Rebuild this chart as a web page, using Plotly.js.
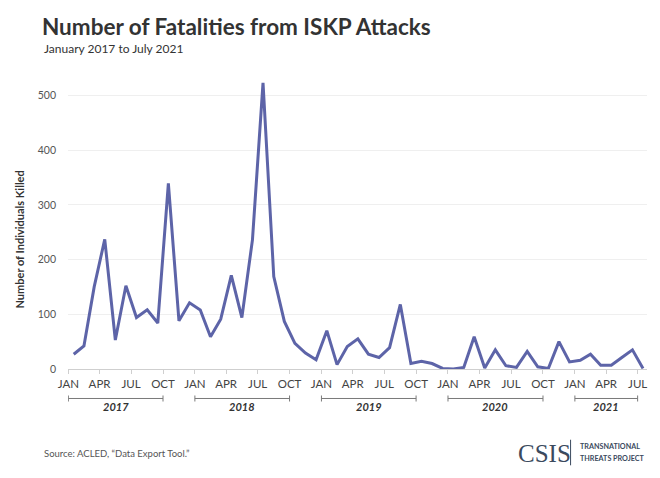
<!DOCTYPE html>
<html>
<head>
<meta charset="utf-8">
<script src="https://cdn.plot.ly/plotly-3.0.1.min.js"></script>
<style>
  html, body { margin: 0; padding: 0; background: #fff; }
  #chart { width: 660px; height: 478px; }
</style>
</head>
<body>
<div id="chart"></div>
<script>
// ---- Data ----
const startYear = 2017;
const monthCount = 55; // Jan 2017 .. Jul 2021
const fatalities = [
  27, 42, 150, 237, 53, 152, 94, 108, 84, 339, 88, 121,      // 2017
  108, 59, 91, 171, 94, 236, 523, 169, 87, 47, 29, 17,       // 2018
  70, 8, 41, 55, 27, 21, 39, 118, 10, 14, 10, 1,             // 2019
  0, 3, 59, 2, 35, 6, 3, 32, 4, 1, 50, 13,                   // 2020
  16, 27, 7, 7, 21, 35, 1                                    // 2021
];
const quarterLabels = ['JAN', 'APR', 'JUL', 'OCT'];
const years = [2017, 2018, 2019, 2020, 2021];
const yTicks = [0, 100, 200, 300, 400, 500];

// month keys
const months = [];
for (let i = 0; i < monthCount; i++) {
  const y = startYear + Math.floor(i / 12);
  const m = (i % 12) + 1;
  months.push(y + '-' + String(m).padStart(2, '0') + '-01');
}

// quarter ticks
const tickVals = [], tickText = [];
for (let i = 0; i < monthCount; i += 3) {
  tickVals.push(months[i]);
  tickText.push(quarterLabels[(i % 12) / 3]);
}

const lineColor = '#5d64a8';
const axisGray = '#cfcfcf';
const bracketGray = '#7a7a7a';

const shapes = [];
const annotations = [];
const yB = -0.098, yT1 = -0.088, yT2 = -0.108;
years.forEach(yr => {
  const first = months.indexOf(yr + '-01-01');
  let last = months.indexOf(yr + '-10-01');
  if (last < 0) last = months.indexOf(yr + '-07-01');
  const x0 = months[first], x1 = months[last];
  shapes.push({type: 'line', xref: 'x', yref: 'paper', x0: x0, x1: x1, y0: yB, y1: yB,
               line: {color: bracketGray, width: 1}});
  shapes.push({type: 'line', xref: 'x', yref: 'paper', x0: x0, x1: x0, y0: yT1, y1: yT2,
               line: {color: bracketGray, width: 1}});
  shapes.push({type: 'line', xref: 'x', yref: 'paper', x0: x1, x1: x1, y0: yT1, y1: yT2,
               line: {color: bracketGray, width: 1}});
  const mid = new Date((new Date(x0).getTime() + new Date(x1).getTime()) / 2);
  annotations.push({xref: 'x', yref: 'paper', x: mid.toISOString().slice(0, 10), y: -0.125,
                    text: '<b><i>' + yr + '</i></b>', showarrow: false, yanchor: 'middle',
                    font: {family: 'Lato, sans-serif', size: 11, color: '#333'}});
});

// subtitle
annotations.push({xref: 'paper', yref: 'paper', x: -0.0455, y: 1.033, xanchor: 'left', yanchor: 'bottom',
  text: 'January 2017 to July 2021', showarrow: false,
  font: {family: 'Lato, sans-serif', size: 12, color: '#333'}});
// y axis title
annotations.push({xref: 'paper', yref: 'paper', x: -0.083, y: 0.43, xanchor: 'center', yanchor: 'middle',
  text: '<b>Number of Individuals Killed</b>', textangle: -90, showarrow: false,
  font: {family: 'Lato, sans-serif', size: 11, color: '#333'}});
// source
annotations.push({xref: 'paper', yref: 'paper', x: -0.0455, y: -0.28, xanchor: 'left', yanchor: 'middle',
  text: 'Source: ACLED, \u201cData Export Tool.\u201d', showarrow: false,
  font: {family: 'Lato, sans-serif', size: 9.5, color: '#555'}});
// CSIS logo
annotations.push({xref: 'paper', yref: 'paper', x: 0.774, y: -0.28, xanchor: 'left', yanchor: 'middle',
  text: 'CSIS', showarrow: false,
  font: {family: 'Liberation Serif, serif', size: 25, color: '#3b4a5e'}});
annotations.push({xref: 'paper', yref: 'paper', x: 0.881, y: -0.258, xanchor: 'left', yanchor: 'middle',
  text: '<b>TRANSNATIONAL</b>', showarrow: false,
  font: {family: 'Lato, sans-serif', size: 7.2, color: '#3b4a5e'}});
annotations.push({xref: 'paper', yref: 'paper', x: 0.881, y: -0.298, xanchor: 'left', yanchor: 'middle',
  text: '<b>THREATS PROJECT</b>', showarrow: false,
  font: {family: 'Lato, sans-serif', size: 7.2, color: '#3b4a5e'}});
shapes.push({type: 'line', xref: 'paper', yref: 'paper', x0: 0.868, x1: 0.868, y0: -0.235, y1: -0.32,
             line: {color: '#3b4a5e', width: 1}});

const trace = {
  x: months,
  y: fatalities,
  xperiod: 'M1',
  xperiodalignment: 'middle',
  type: 'scatter',
  mode: 'lines',
  line: {color: lineColor, width: 3},
  hoverinfo: 'x+y'
};

const layout = {
  width: 660, height: 478,
  margin: {l: 68, r: 13, t: 68, b: 109},
  paper_bgcolor: '#fff', plot_bgcolor: '#fff',
  showlegend: false,
  title: {
    text: '<b>Number of Fatalities from ISKP Attacks</b>',
    x: 42 / 660, xanchor: 'left', xref: 'container',
    y: 1 - 35 / 478, yanchor: 'bottom', yref: 'container',
    font: {family: 'Lato, sans-serif', size: 22.5, color: '#333'}
  },
  xaxis: {
    type: 'date',
    range: ['2016-12-31', '2021-07-28'],
    tickvals: tickVals, ticktext: tickText,
    showgrid: false, zeroline: false,
    showline: true, linecolor: axisGray, linewidth: 1,
    ticks: 'outside', ticklen: 4, tickcolor: axisGray,
    tickfont: {family: 'Lato, sans-serif', size: 11.5, color: '#444'},
    fixedrange: true
  },
  yaxis: {
    range: [0, 550],
    tickvals: yTicks,
    showgrid: true, gridcolor: '#efefef', gridwidth: 1,
    zeroline: false, showline: false, ticks: '',
    ticklabelstandoff: 11,
    tickfont: {family: 'Lato, sans-serif', size: 10.5, color: '#555'},
    fixedrange: true
  },
  shapes: shapes,
  annotations: annotations
};

Plotly.newPlot('chart', [trace], layout, {displayModeBar: false, staticPlot: true});
</script>
</body>
</html>
